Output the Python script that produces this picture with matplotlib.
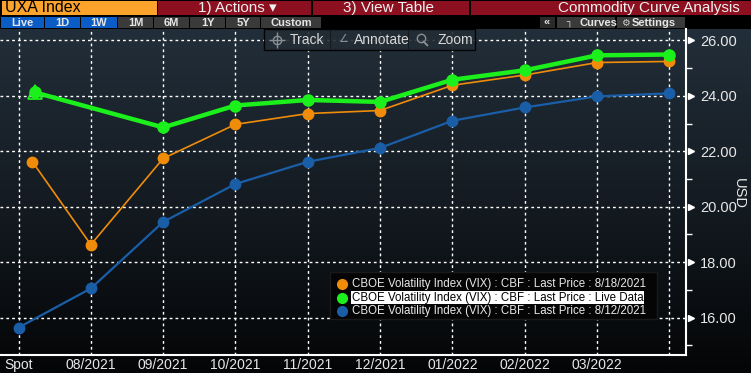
import numpy as np
import matplotlib
matplotlib.use('Agg')
import matplotlib.pyplot as plt
from matplotlib.patches import Rectangle
from matplotlib.colors import LinearSegmentedColormap

plt.rcParams['font.family'] = ['Liberation Sans Narrow', 'Liberation Sans', 'DejaVu Sans']

# curve data: x is months from Spot (0 = Spot tick, 1 = 08/2021, ...)
tick_labels = ['Spot', '08/2021', '09/2021', '10/2021', '11/2021', '12/2021',
               '01/2022', '02/2022', '03/2022', '']

x_aug18 = [0.19, 1, 2, 3, 4, 5, 6, 7, 8, 9]
aug18 = [21.63, 18.63, 21.74, 22.97, 23.36, 23.47, 24.38, 24.75, 25.20, 25.24]

x_live = [0.23, 2, 3, 4, 5, 6, 7, 8, 9]
live = [24.12, 22.86, 23.65, 23.85, 23.78, 24.58, 24.92, 25.46, 25.49]

x_aug12 = [0, 1, 2, 3, 4, 5, 6, 7, 8, 9]
aug12 = [15.64, 17.05, 19.45, 20.82, 21.62, 22.12, 23.10, 23.58, 23.98, 24.09]

legend_labels = ['CBOE Volatility Index (VIX) : CBF : Last Price : 8/18/2021',
                 'CBOE Volatility Index (VIX) : CBF : Last Price : Live Data',
                 'CBOE Volatility Index (VIX) : CBF : Last Price : 8/12/2021']

ORANGE = '#f08c0a'
GREEN = '#1cf01c'
BLUE = '#1a5ea8'

W, H = 751, 373
fig = plt.figure(figsize=(W / 100, H / 100), dpi=100)
fig.patch.set_facecolor('black')


def px(x, y, w, h):
    # pixel box (from top-left) -> figure fraction
    return [x / W, 1 - (y + h) / H, w / W, h / H]


def box(x, y, w, h, color, **kw):
    r = Rectangle((x / W, 1 - (y + h) / H), w / W, h / H, transform=fig.transFigure,
                  facecolor=color, edgecolor=kw.pop('ec', 'none'), lw=kw.pop('lw', 0), **kw)
    fig.patches.append(r)
    return r


def ftext(x, y, s, **kw):
    return fig.text(x / W, 1 - y / H, s, va='center', **kw)


def fmark(x, y, **kw):
    fig.lines.append(plt.Line2D([x / W], [1 - y / H], transform=fig.transFigure, **kw))


# gradient background below toolbar
bg = fig.add_axes(px(0, 29, W, H - 29))
grad = np.linspace(0, 1, 256).reshape(-1, 1)
cmap = LinearSegmentedColormap.from_list('bg', ['#222e39', '#141b22', '#040506'])
bg.imshow(grad, aspect='auto', cmap=cmap, extent=[0, 1, 0, 1], origin='upper')
bg.set_axis_off()

ax = fig.add_axes(px(0, 29, 686, 326))
ax.set_facecolor('none')

ax.plot(x_aug18, aug18, color=ORANGE, lw=1.2, marker='o', ms=7.5, mec=ORANGE, zorder=4)
ax.plot(x_aug12, aug12, color=BLUE, lw=1.6, marker='o', ms=7.5, mec=BLUE, zorder=3)
ax.plot(x_live, live, color=GREEN, lw=3.2, marker='o', ms=8, mec=GREEN, zorder=5)
ax.plot(x_live[:1], live[:1], linestyle='none', marker='^', ms=10, mfc='none', mec=GREEN,
        mew=1.3, zorder=5)

ax.set_xlim(-0.256, 9.23)
ax.set_ylim(14.65, 26.41)
ax.set_xticks(range(len(tick_labels)))
ax.set_xticklabels(tick_labels, color='#e8e8e8', fontsize=10)
ax.set_yticks([16, 18, 20, 22, 24, 26])
ax.set_yticks(np.arange(15, 27, 2), minor=True)
ax.yaxis.tick_right()
ax.set_yticklabels(['16.00', '18.00', '20.00', '22.00', '24.00', '26.00'], color='#e8e8e8',
                   fontsize=10.5)
ax.tick_params(axis='x', length=0, pad=2)
ax.tick_params(axis='y', which='major', length=0, pad=10)
ax.tick_params(axis='y', which='minor', length=4, color='white', width=1, direction='out')
ax.grid(True, which='major', color='white', linestyle=(0, (2, 2.2)), lw=1)
for s in ['top', 'left']:
    ax.spines[s].set_visible(False)
for s in ['right', 'bottom']:
    ax.spines[s].set_color('white')
    ax.spines[s].set_linewidth(1.5)
ax.plot([1.008] * 6, [16, 18, 20, 22, 24, 26], linestyle='none', marker='>', ms=5,
        color='white', transform=ax.get_yaxis_transform(), clip_on=False)

ftext(739, 193, 'USD', rotation=270, ha='center', color='#e8e8e8', fontsize=10.5)

# legend box
box(330, 272, 327, 47, '#050505', ec='#1a1a1a', lw=1, zorder=6)
for i, (lab, c) in enumerate(zip(legend_labels, [ORANGE, GREEN, BLUE])):
    yy = 284 + i * 13.5
    fmark(342, yy, marker='o', ms=7, color=c, zorder=7)
    t = ftext(352, yy, lab, color='#e8e8e8', fontsize=8.3, zorder=7)
    if i == 1:
        t.set_color('black')
        t.set_bbox(dict(facecolor='white', edgecolor='none', pad=0.6))

# in-chart toolbar
box(264, 29, 211, 21, '#232c34', ec='black', lw=1, alpha=0.9, zorder=6)
for xx in [330, 408]:
    box(xx, 30, 1, 19, '#14191e', zorder=6)
# track icon
fmark(277, 39.5, marker='o', ms=6, mfc='none', mec='#8a8f95', mew=1, zorder=7)
fmark(277, 39.5, marker='+', ms=11, mec='#8a8f95', mew=1, zorder=7)
ftext(290, 39.5, 'Track', color='#d8d8d8', fontsize=10, zorder=7)
# annotate icon
ftext(338, 39.5, '\u2220', color='#8a8f95', fontsize=8, zorder=7, family='DejaVu Sans')
ftext(354, 39.5, 'Annotate', color='#d8d8d8', fontsize=10, zorder=7)
# zoom icon
fmark(421, 38, marker='o', ms=6, mfc='none', mec='#8a8f95', mew=1, zorder=7)
fmark(425.5, 42.5, marker=(2, 0, 45), ms=5, mec='#8a8f95', mew=1.4, zorder=7)
ftext(437, 39.5, 'Zoom', color='#d8d8d8', fontsize=10, zorder=7)

# top header row
box(0, 0, W, 16, 'black')
box(2, 1, 155, 14, '#fba32b')
ftext(5, 8, 'UXA Index', color='black', fontsize=11.5)
box(158, 1, 153, 14, '#8c1020')
ftext(198, 8, '1) Actions \u25be', color='#f0f0f0', fontsize=11)
box(313, 1, 156, 14, '#8c1020')
ftext(343, 8, '3) View Table', color='#f0f0f0', fontsize=11)
box(471, 1, 280, 14, '#8c1020')
ftext(740, 8, 'Commodity Curve Analysis', color='#f0f0f0', fontsize=11, ha='right')

# period buttons
buttons = [('Live', 1, 43, '#0b5cc4'), ('1D', 45, 35, '#0b5cc4'), ('1W', 81, 36, '#0b5cc4'),
           ('1M', 118, 35, '#3a3a3a'), ('6M', 154, 35, '#3a3a3a'), ('1Y', 190, 35, '#3a3a3a'),
           ('5Y', 226, 34, '#3a3a3a'), ('Custom', 261, 60, '#3a3a3a')]
for lab, x0, w, c in buttons:
    box(x0, 17, w, 11, c)
    ftext(x0 + w / 2, 22.5, lab, color='#e6e6e6', fontsize=8, ha='center', weight='bold')

box(540, 17, 15, 11, '#2a2a2a')
ftext(547, 22.5, '\u00ab', color='#e6e6e6', fontsize=8, ha='center', weight='bold')
box(557, 17, 58, 11, '#3a3a3a')
ftext(566, 22.5, '\u2510', color='#cccccc', fontsize=7, family='DejaVu Sans')
ftext(580, 22.5, 'Curves', color='#e6e6e6', fontsize=8, weight='bold')
box(617, 17, 68, 11, '#3a3a3a')
ftext(621, 22.5, '\u2699', color='#cccccc', fontsize=7, family='DejaVu Sans')
ftext(632, 22.5, 'Settings', color='#e6e6e6', fontsize=8, weight='bold')

fig.savefig('out.png', dpi=100, facecolor='black')
